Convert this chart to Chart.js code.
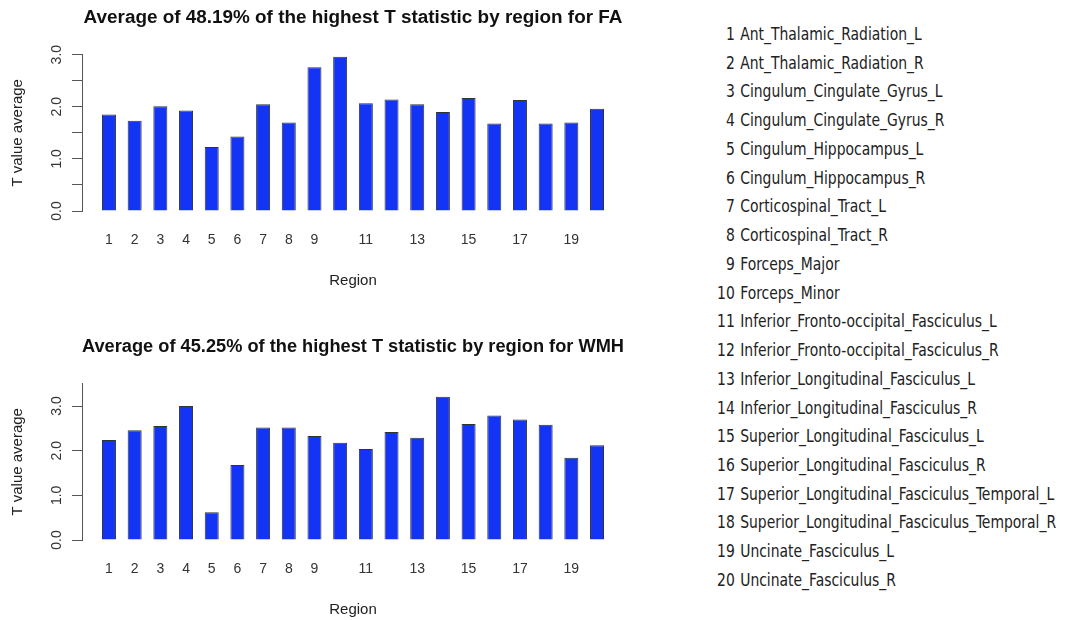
<!DOCTYPE html>
<html>
<head>
<meta charset="utf-8">
<script src="https://cdn.jsdelivr.net/npm/chart.js@4.4.1/dist/chart.umd.min.js"></script>
<style>
    html, body { margin: 0; padding: 0; background: #fff; }
    body { width: 1068px; height: 620px; position: relative; overflow: hidden; }
    .plot { position: absolute; left: 0; width: 640px; height: 290px; }
    #fa-wrap { top: 0; }
    #wmh-wrap { top: 329px; }
    #region-list {
        position: absolute; left: 712px; top: 20px;
        font-family: "DejaVu Sans Condensed", "Liberation Sans", sans-serif;
        font-stretch: condensed;
        font-size: 17px; color: #222; line-height: 28.74px;
        white-space: nowrap;
        transform: scaleX(0.91); transform-origin: 0 0;
    }
    #region-list .num { display: inline-block; width: 25px; text-align: right; margin-right: 6px; }
</style>
</head>
<body>
<div class="plot" id="fa-wrap"><canvas id="fa-chart"></canvas></div>
<div class="plot" id="wmh-wrap"><canvas id="wmh-chart"></canvas></div>
<div id="region-list"></div>

<script>
// region numbers 1..20 and their names
const regions = [1, 2, 3, 4, 5, 6, 7, 8, 9, 10, 11, 12, 13, 14, 15, 16, 17, 18, 19, 20];
const regionNames = [
    "Ant_Thalamic_Radiation_L",
    "Ant_Thalamic_Radiation_R",
    "Cingulum_Cingulate_Gyrus_L",
    "Cingulum_Cingulate_Gyrus_R",
    "Cingulum_Hippocampus_L",
    "Cingulum_Hippocampus_R",
    "Corticospinal_Tract_L",
    "Corticospinal_Tract_R",
    "Forceps_Major",
    "Forceps_Minor",
    "Inferior_Fronto-occipital_Fasciculus_L",
    "Inferior_Fronto-occipital_Fasciculus_R",
    "Inferior_Longitudinal_Fasciculus_L",
    "Inferior_Longitudinal_Fasciculus_R",
    "Superior_Longitudinal_Fasciculus_L",
    "Superior_Longitudinal_Fasciculus_R",
    "Superior_Longitudinal_Fasciculus_Temporal_L",
    "Superior_Longitudinal_Fasciculus_Temporal_R",
    "Uncinate_Fasciculus_L",
    "Uncinate_Fasciculus_R"
];

const faValues  = [1.85, 1.73, 2.01, 1.93, 1.23, 1.43, 2.05, 1.70, 2.76, 2.96,
                   2.07, 2.14, 2.05, 1.90, 2.17, 1.68, 2.13, 1.68, 1.70, 1.96];
const wmhValues = [2.24, 2.46, 2.55, 3.00, 0.62, 1.68, 2.52, 2.52, 2.33, 2.18,
                   2.04, 2.42, 2.29, 3.21, 2.60, 2.79, 2.70, 2.58, 1.84, 2.12];

// R drops overlapping labels, so only these show
const xTickLabels = [1, 2, 3, 4, 5, 6, 7, 8, 9, 11, 13, 15, 17, 19];
const yTickLabels = ["0.0", "1.0", "2.0", "3.0"];

const faTitle = "Average of 48.19% of the highest T statistic by region for FA";
const wmhTitle = "Average of 45.25% of the highest T statistic by region for WMH";

(function(){
    "use strict";

    const FONT = "'Liberation Sans', Arial, Helvetica, sans-serif";
    Chart.defaults.font.family = FONT;
    Chart.defaults.color = "#333";
    Chart.defaults.animation = false;

    function renderBarChart(id, values, title, yMax){
        let ctx = document.getElementById(id).getContext("2d");
        return new Chart(ctx, {
            type: "bar",
            data: {
                datasets: [
                    {
                        data: regions.map((r, i) => ({ x: r, y: values[i] })),
                        backgroundColor: "#1434f5",
                        borderColor: "#333",
                        borderWidth: 1,
                        barPercentage: 0.545,
                        categoryPercentage: 1,
                    },
                ],
            },
            options: {
                responsive: false,
                maintainAspectRatio: false,
                layout: { padding: { left: 0, right: 16, top: 0, bottom: 0 } },
                plugins: {
                    legend: { display: false },
                    tooltip: { enabled: false },
                    title: {
                        display: true,
                        text: title,
                        fullSize: false,
                        color: "#111",
                        font: { size: 18.9, weight: "bold" },
                        padding: { top: 6, bottom: 26 },
                    },
                },
                scales: {
                    x: {
                        type: "linear",
                        offset: false,
                        min: -0.05,
                        max: 21.05,
                        afterBuildTicks: function(scale){
                            scale.ticks = xTickLabels.map(v => ({ value: v }));
                        },
                        afterFit: function(scale){ scale.height = 79; },
                        ticks: {
                            font: { size: 14 },
                            color: "#333",
                            padding: 21,
                            autoSkip: false,
                            maxRotation: 0,
                            callback: v => String(v),
                        },
                        grid: { display: false, drawTicks: false },
                        border: { display: false },
                        title: {
                            display: true,
                            text: "Region",
                            color: "#222",
                            font: { size: 15 },
                            padding: { top: 16, bottom: 0 },
                        },
                    },
                    y: {
                        min: 0,
                        max: yMax,
                        afterFit: function(scale){ scale.width = 82; },
                        ticks: {
                            stepSize: 0.5,
                            font: { size: 14 },
                            color: "#333",
                            padding: 5,
                            minRotation: 90,
                            maxRotation: 90,
                            crossAlign: "center",
                            callback: function(value){
                                let label = value.toFixed(1);
                                return yTickLabels.indexOf(label) >= 0 ? label : "";
                            },
                        },
                        grid: {
                            drawOnChartArea: false,
                            drawTicks: true,
                            tickLength: 10,
                            color: "#555",
                        },
                        border: { display: true, color: "#555", width: 1 },
                        title: {
                            display: true,
                            text: "T value average",
                            color: "#222",
                            font: { size: 15 },
                            padding: { top: 9, bottom: 0 },
                        },
                    },
                },
            },
        });
    }

    function renderRegionList(){
        let box = document.getElementById("region-list");
        regions.forEach(function(r, i){
            let line = document.createElement("div");
            line.innerHTML = '<span class="num">' + r + '</span>' + regionNames[i];
            box.appendChild(line);
        });
    }

    let faCanvas = document.getElementById("fa-chart");
    let wmhCanvas = document.getElementById("wmh-chart");
    [faCanvas, wmhCanvas].forEach(c => { c.width = 640; c.height = 290; });

    renderBarChart("fa-chart", faValues, faTitle, 3.0);
    renderBarChart("wmh-chart", wmhValues, wmhTitle, 3.5);
    renderRegionList();
})();
</script>
</body>
</html>
